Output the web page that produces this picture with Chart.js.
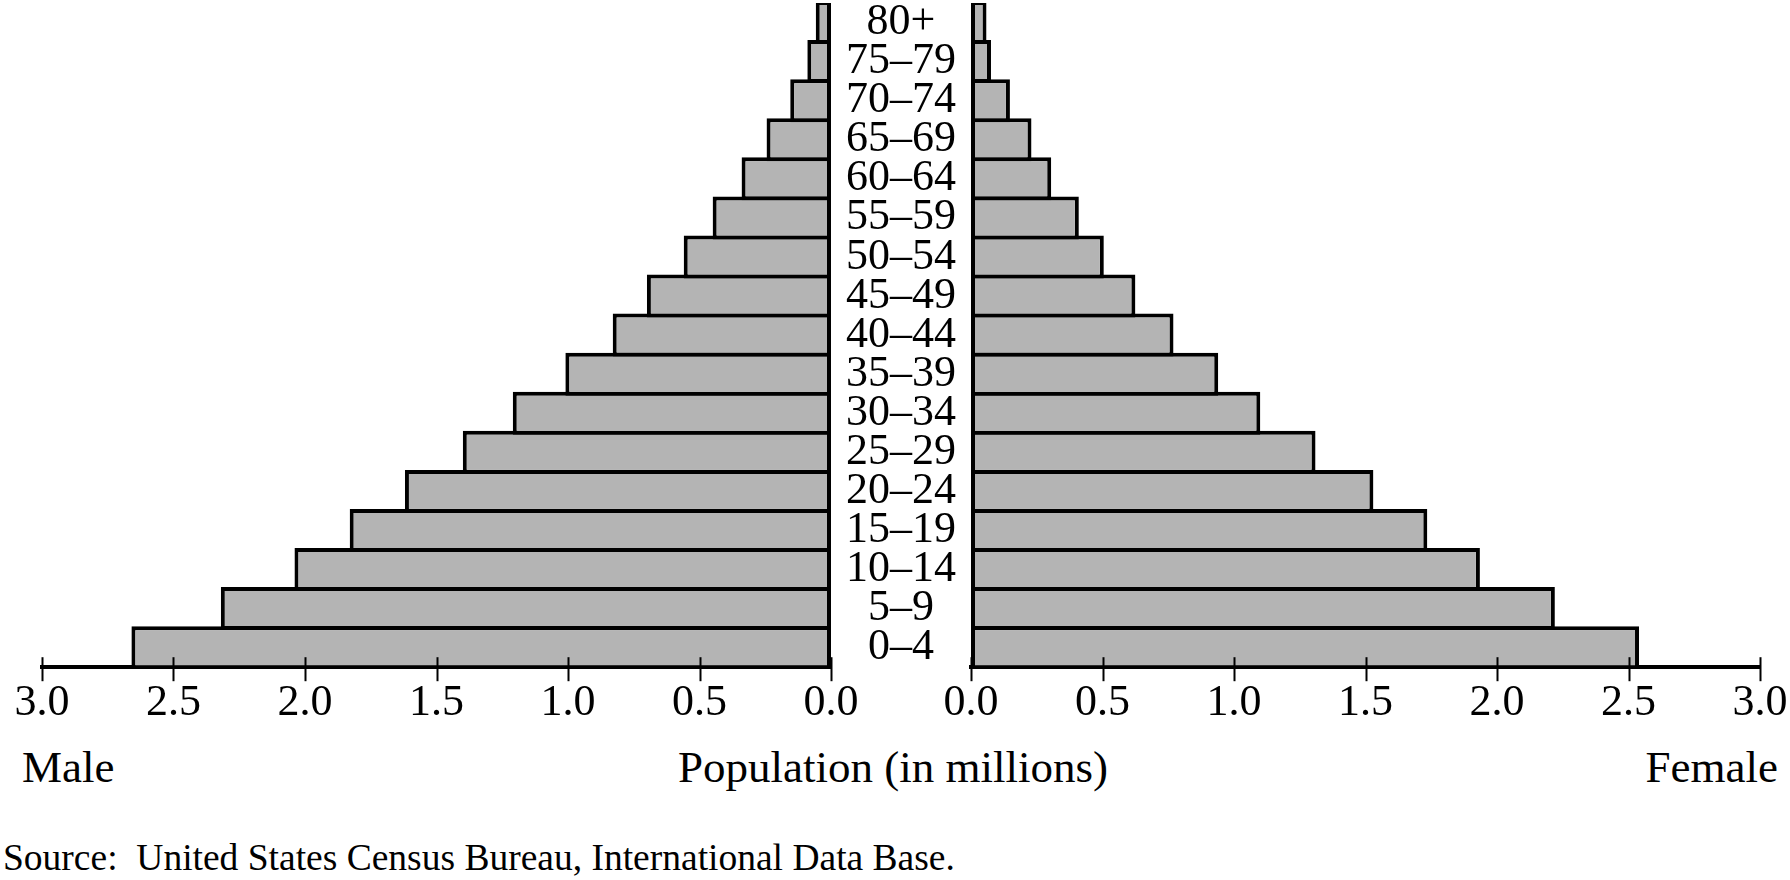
<!DOCTYPE html>
<html>
<head>
<meta charset="utf-8">
<script src="https://cdn.jsdelivr.net/npm/chart.js@4.4.1/dist/chart.umd.min.js"></script>
<style>
  body { margin: 0; background: #fff; width: 1790px; height: 880px; overflow: hidden; position: relative; }
  canvas { position: absolute; top: 0; }
  .txt { position: absolute; font-family: 'Liberation Serif', 'Times New Roman', serif; color: #000; line-height: 1; white-space: pre; }
</style>
</head>
<body>
<canvas id="maleChart" width="971" height="740" style="left:0"></canvas>
<canvas id="femaleChart" width="910" height="740" style="left:900px"></canvas>
<div class="txt" style="left:22px; top:745px; font-size:45px">Male</div>
<div class="txt" style="left:678px; top:745px; font-size:45px">Population (in millions)</div>
<div class="txt" style="right:12px; top:745px; font-size:45px">Female</div>
<div class="txt" style="left:3px; top:839px; font-size:37.5px">Source:  United States Census Bureau, International Data Base.</div>
<script>
// age groups, youngest first (y axis is reversed so 0–4 sits at the bottom)
const age_groups = ['0–4', '5–9', '10–14', '15–19', '20–24', '25–29', '30–34', '35–39',
  '40–44', '45–49', '50–54', '55–59', '60–64', '65–69', '70–74', '75–79', '80+'];
// population in millions
const male_values = [2.66, 2.32, 2.04, 1.83, 1.62, 1.40, 1.21, 1.01, 0.83, 0.70, 0.56, 0.45, 0.34, 0.245, 0.155, 0.09, 0.058];
const female_values = [2.54, 2.22, 1.935, 1.735, 1.53, 1.31, 1.10, 0.94, 0.77, 0.625, 0.505, 0.41, 0.305, 0.23, 0.148, 0.076, 0.059];
const x_max = 3;
const x_step = 0.5;

Chart.defaults.font.family = "'Liberation Serif', 'Times New Roman', serif";
Chart.defaults.color = '#000';

// tick marks that cross the axis line, drawn over the bars
const crossTicks = {
  id: 'crossTicks',
  afterDatasetsDraw(chart) {
    const s = chart.scales.x;
    const ctx = chart.ctx;
    const b = chart.chartArea.bottom;
    ctx.save();
    ctx.strokeStyle = '#000';
    ctx.lineWidth = 2;
    s.ticks.forEach(t => {
      const x = Math.round(s.getPixelForValue(t.value)) + 0.5;
      ctx.beginPath();
      ctx.moveTo(x, b - 10);
      ctx.lineTo(x, b + 14);
      ctx.stroke();
    });
    ctx.restore();
  }
};

function barDataset(values) {
  return {
    data: values,
    backgroundColor: '#b4b4b4',
    borderColor: '#000',
    borderWidth: 4,
    borderSkipped: false,
    barPercentage: 1.1,
    categoryPercentage: 1
  };
}

function xScale(reverse) {
  return {
    min: 0,
    max: x_max,
    reverse: reverse,
    grid: { display: false, drawTicks: false },
    border: { display: true, color: '#000', width: 4 },
    ticks: {
      stepSize: x_step,
      padding: 10,
      maxRotation: 0,
      font: { size: 44 },
      callback: v => v.toFixed(1)
    }
  };
}

const maleChart = new Chart(document.getElementById('maleChart'), {
  type: 'bar',
  data: { labels: age_groups, datasets: [barDataset(male_values)] },
  options: {
    indexAxis: 'y',
    responsive: false,
    animation: false,
    layout: { padding: { left: 42, top: 3, right: 0, bottom: 0 } },
    plugins: { legend: { display: false }, tooltip: { enabled: false } },
    scales: {
      x: xScale(true),
      y: {
        position: 'right',
        reverse: true,
        grid: { display: false, drawTicks: false },
        border: { display: false },
        ticks: { font: { size: 44 }, crossAlign: 'center', padding: 15, autoSkip: false },
        afterFit: scale => {
          scale.width = 140;
          scale.paddingTop = 0;
          scale.paddingBottom = 0;
        }
      }
    }
  },
  plugins: [crossTicks]
});

const femaleChart = new Chart(document.getElementById('femaleChart'), {
  type: 'bar',
  data: { labels: age_groups, datasets: [barDataset(female_values)] },
  options: {
    indexAxis: 'y',
    responsive: false,
    animation: false,
    layout: { padding: { left: 71, top: 3, right: 50, bottom: 0 } },
    plugins: { legend: { display: false }, tooltip: { enabled: false } },
    scales: {
      x: xScale(false),
      y: { display: false, reverse: true }
    }
  },
  plugins: [crossTicks]
});
</script>
</body>
</html>
